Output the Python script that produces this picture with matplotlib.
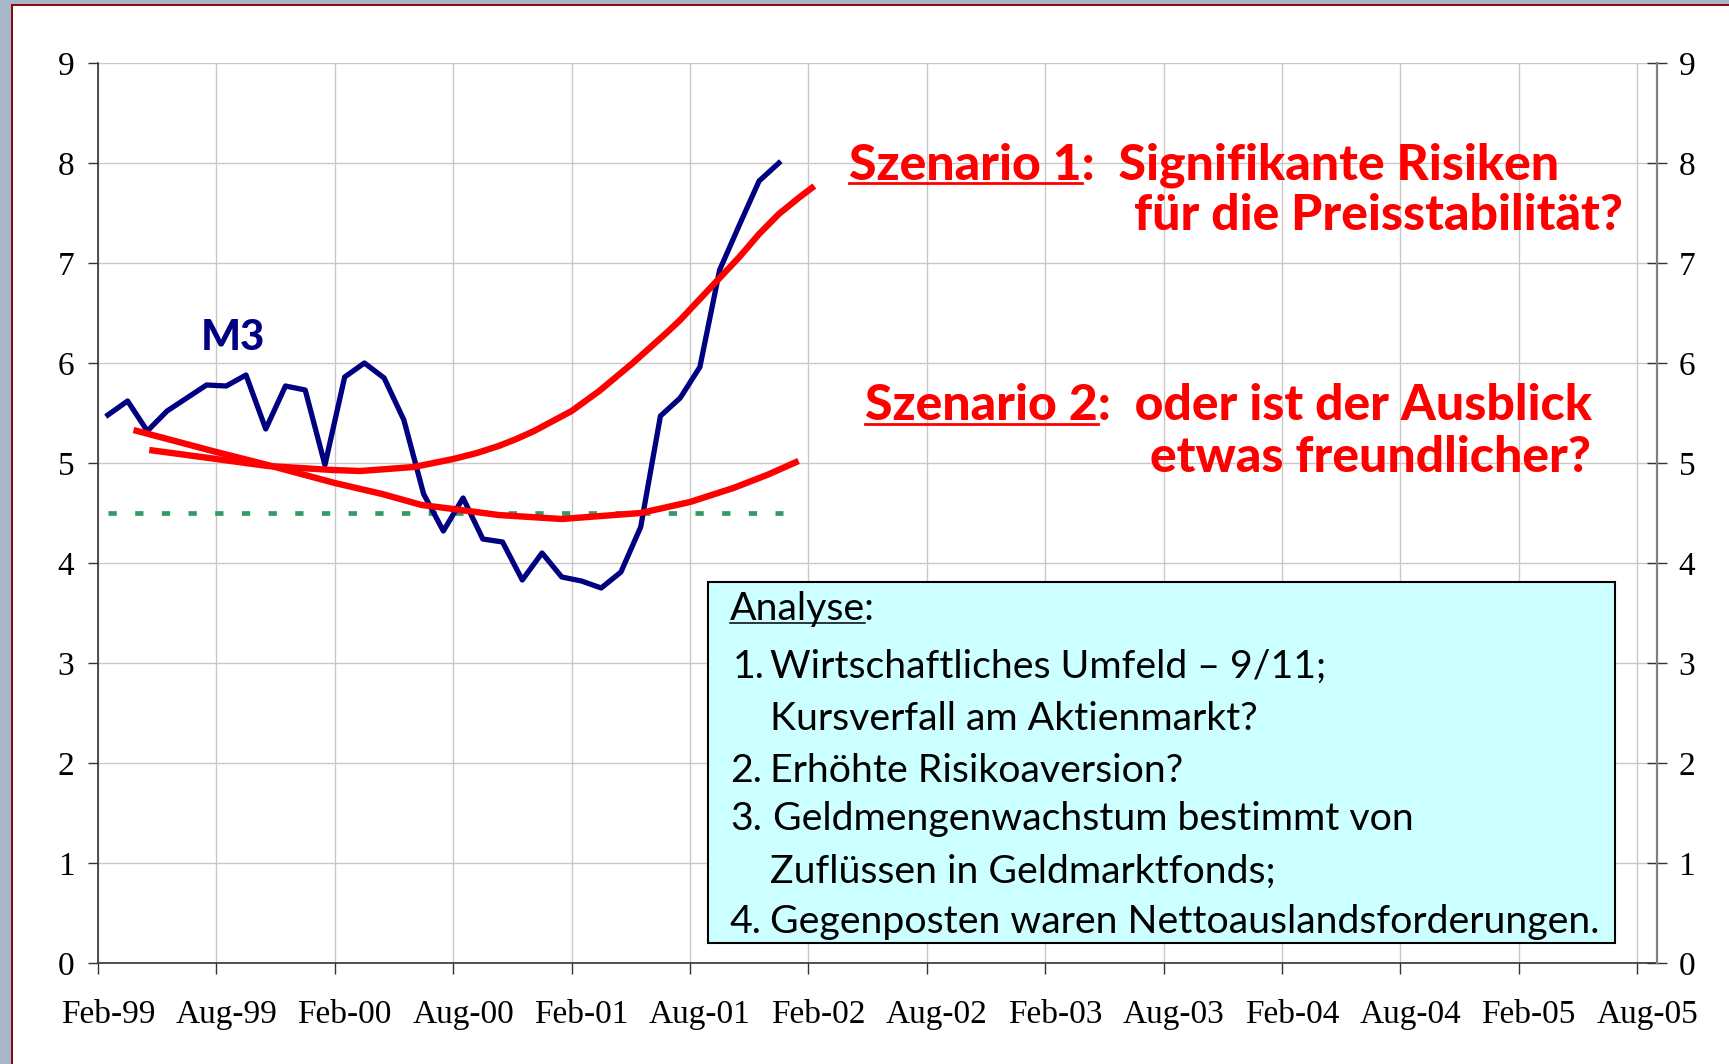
import numpy as np
import matplotlib.pyplot as plt
from matplotlib.patches import Rectangle
from matplotlib.lines import Line2D

W, H = 1729, 1064  # output size in pixels

# x axis: monthly categories Feb-99 .. Aug-05, labelled every 6 months
months = ['Feb-99', 'Aug-99', 'Feb-00', 'Aug-00', 'Feb-01', 'Aug-01', 'Feb-02',
          'Aug-02', 'Feb-03', 'Aug-03', 'Feb-04', 'Aug-04', 'Feb-05', 'Aug-05']

# M3 growth, one value per month starting Feb-99
m3 = [5.48, 5.62, 5.32, 5.52, 5.65, 5.78, 5.77, 5.88, 5.34, 5.77, 5.73, 4.98,
      5.86, 6.00, 5.85, 5.43, 4.69, 4.32, 4.65, 4.24, 4.21, 3.83, 4.10, 3.86,
      3.82, 3.75, 3.91, 4.36, 5.47, 5.65, 5.96, 6.93, 7.38, 7.82, 8.00]

# scenario curves (month index, value)
s1_month = [2.1, 5.5, 8.1, 11.4, 12.8, 15.5, 17.5, 18.7, 19.8, 20.7, 21.6, 23.5,
            24.9, 26.6, 28.3, 29.0, 31.0, 32.0, 33.0, 34.0, 35.0, 35.8]
s1_val = [5.13, 5.04, 4.97, 4.93, 4.92, 4.96, 5.04, 5.10, 5.17, 5.24, 5.32, 5.52,
          5.72, 6.00, 6.30, 6.43, 6.85, 7.06, 7.29, 7.49, 7.65, 7.77]
s2_month = [1.3, 5.5, 8.1, 11.5, 13.9, 15.9, 17.5, 19.8, 23.0, 27.0, 29.5,
            31.7, 33.4, 35.0]
s2_val = [5.33, 5.11, 4.98, 4.80, 4.69, 4.58, 4.54, 4.48, 4.44, 4.50, 4.61,
          4.75, 4.88, 5.02]

# reference value line
ref_month = [0, 34.2]
ref_val = [4.5, 4.5]

n_cat = 6 * (len(months) - 1) + 1

fig = plt.figure(figsize=(W / 100, H / 100), dpi=100)
fig.patch.set_facecolor('white')

def fx(x):
    return x / W

def fy(y):
    return 1 - y / H

# slide frame: grey strip + dark red edge on left and top
for r in [(0, 0, 11, H), (0, 0, W, 4)]:
    fig.add_artist(Rectangle((fx(r[0]), fy(r[1] + r[3])), r[2] / W, r[3] / H,
                             transform=fig.transFigure, color='#a5b7c8', lw=0))
fig.add_artist(Rectangle((fx(11), 0), 2 / W, fy(4), transform=fig.transFigure,
                         color='#8b0a0a', lw=0))
fig.add_artist(Rectangle((fx(11), fy(6)), 1, 2 / H, transform=fig.transFigure,
                         color='#8b0a0a', lw=0))

ax = fig.add_axes([fx(98), fy(963), (1657 - 98) / W, 900 / H])
ax.set_xlim(0, n_cat)
ax.set_ylim(0, 9)

x_m3 = np.arange(len(m3)) + 0.5
ax.plot(np.array(ref_month) + 0.5, ref_val, color='#339966', lw=3.4,
        linestyle=(0, (1.75, 3.9)), dash_capstyle='butt', zorder=3)
ax.plot(x_m3, m3, color='#000080', lw=3.8, solid_joinstyle='round', zorder=4)
ax.plot(np.array(s1_month) + 0.5, s1_val, color='red', lw=4.6,
        solid_capstyle='butt', solid_joinstyle='round', zorder=5)
ax.plot(np.array(s2_month) + 0.5, s2_val, color='red', lw=4.6,
        solid_capstyle='butt', solid_joinstyle='round', zorder=5)

# axes styling
ax.set_xticks(np.arange(0, n_cat, 6))
ax.set_xticklabels([])
ax.set_xticks(np.arange(0, n_cat, 6) + 0.5, labels=months, minor=True)
ax.set_yticks(range(10))
ax.grid(True, which='major', color='#c8c8c8', lw=1)
ax.tick_params(axis='x', which='major', direction='out', length=8, width=1,
               color='#333333')
ax.tick_params(axis='x', which='minor', length=0, pad=26)
ax.tick_params(axis='y', direction='out', length=7.5, width=1, pad=9.5,
               color='#333333')
for lab in ax.get_xticklabels(minor=True) + ax.get_yticklabels():
    lab.set_family('Liberation Serif')
    lab.set_fontsize(24)
for side in ['top', 'right']:
    ax.spines[side].set_visible(False)
for side in ['left', 'bottom']:
    ax.spines[side].set_color('#333333')
    ax.spines[side].set_linewidth(1.2)

ax2 = ax.twinx()
ax2.set_ylim(0, 9)
ax2.set_yticks(range(10))
ax2.tick_params(axis='y', direction='inout', length=14, width=1, pad=8.5,
                color='#333333')
for lab in ax2.get_yticklabels():
    lab.set_family('Liberation Serif')
    lab.set_fontsize(24)
for side in ['top', 'left', 'bottom']:
    ax2.spines[side].set_visible(False)
ax2.spines['right'].set_color('#808080')
ax2.spines['right'].set_linewidth(1.6)

renderer = fig.canvas.get_renderer()

def text_width(s, size, **kw):
    t = fig.text(0, 0, s, fontsize=size, **kw)
    w = t.get_window_extent(renderer).width
    t.remove()
    return w

def put(x, y, s, size, kw, underline=None, ul_off=4, ul_lw=2):
    fig.text(fx(x), fy(y), s, fontsize=size, va='baseline', ha='left', zorder=6, **kw)
    if underline:
        w = text_width(underline, size, **kw)
        fig.add_artist(Line2D([fx(x), fx(x + w)], [fy(y + ul_off)] * 2,
                              color=kw['color'], lw=ul_lw, zorder=6))

# M3 label
m3_kw = dict(family='Lato', weight='black', color='#000080')
put(201, 350, 'M3', 30 * 64 / text_width('M3', 30, **m3_kw), m3_kw)

# scenario texts
red_kw = dict(family='Lato', weight='black', color='red')
s1_line = 'Szenario 1:  Signifikante Risiken'
red_size = 30 * 709 / text_width(s1_line, 30, **red_kw)
put(849, 179, s1_line, red_size, red_kw, underline='Szenario 1', ul_off=4, ul_lw=2)
put(1134, 230, 'für die Preisstabilität?', red_size, red_kw)
put(865, 420, 'Szenario 2:  oder ist der Ausblick', red_size, red_kw,
    underline='Szenario 2', ul_off=4, ul_lw=2)
put(1150, 472, 'etwas freundlicher?', red_size, red_kw)

# analysis box
fig.add_artist(Rectangle((fx(708), fy(943)), (1615 - 708) / W, (943 - 582) / H,
                         transform=fig.transFigure, facecolor='#ccffff',
                         edgecolor='black', lw=1.5, zorder=5))
box_kw = dict(family='Lato', color='black')
box_size = 26 * 829 / text_width('Gegenposten waren Nettoauslandsforderungen.', 26, **box_kw)
put(730, 620, 'Analyse:', box_size, box_kw, underline='Analyse', ul_off=3, ul_lw=1.1)
rows = [('1.', 'Wirtschaftliches Umfeld – 9/11;', 678),
        ('', 'Kursverfall am Aktienmarkt?', 730),
        ('2.', 'Erhöhte Risikoaversion?', 782),
        ('3.', ' Geldmengenwachstum bestimmt von', 830),
        ('', 'Zuflüssen in Geldmarktfonds;', 883),
        ('4.', 'Gegenposten waren Nettoauslandsforderungen.', 933)]
for num, txt, yb in rows:
    if num:
        put(733 if num == '1.' else 730, yb, num, box_size, box_kw)
    put(773 if txt.startswith(' ') else 770, yb, txt.strip(), box_size, box_kw)

fig.savefig('out.png', dpi=100)
